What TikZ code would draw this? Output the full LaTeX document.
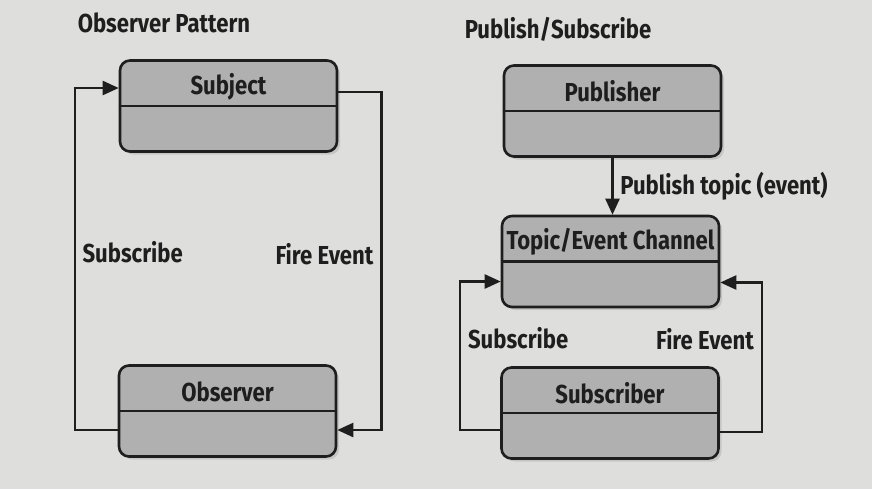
\documentclass[tikz,border=0pt]{standalone}
\usepackage{fontspec}
\setsansfont{Fira Sans}[FakeStretch=0.85]
\usepackage{tikz}
\usetikzlibrary{calc,shadows,arrows.meta}
\definecolor{pagegray}{RGB}{222,223,221}
\definecolor{boxgray}{RGB}{176,176,176}
\definecolor{inkblack}{RGB}{30,30,30}
\tikzstyle{classBox} = [draw=inkblack, line width=1.3pt, fill=boxgray, rounded corners=5pt, minimum width=108.5pt, minimum height=45.5pt, drop shadow={shadow xshift=1.5pt, shadow yshift=-1.5pt, opacity=0.25}]
\tikzstyle{className} = [font=\sffamily\bfseries\fontsize{13}{15}\selectfont, text=inkblack]
\tikzstyle{titleText} = [className, anchor=west]
\tikzstyle{flowLabel} = [className]
\tikzstyle{flow} = [draw=inkblack, line width=1.2pt, -{Triangle[length=8pt,width=7pt]}]

\begin{document}
\begin{tikzpicture}[x=0.5pt, y=-0.5pt]
\fill[pagegray] (0,0) rectangle (872,489);
\useasboundingbox (0,0) rectangle (872,489);

% observer pattern
\node (subject) [classBox] at (228.5,106) {};
\node (observer) [classBox] at (227.5,411) {};
\node (subjectName) [className, yshift=-2pt] at ($(subject.north)!0.5!(subject.center)$) {Subject};
\node (observerName) [className, yshift=-2pt] at ($(observer.north)!0.5!(observer.center)$) {Observer};
\draw[line width=1.3pt, draw=inkblack] (subject.west) -- (subject.east);
\draw[line width=1.3pt, draw=inkblack] (observer.west) -- (observer.east);
\path (subject.north west)+(-24pt,18pt) node (observerTitle) [titleText] {Observer Pattern};

\draw[flow] ([yshift=-9.5pt]observer.west) -- ++(-21.5pt,0) |- node[pos=0.26, right, flowLabel] {Subscribe} ([yshift=9pt]subject.west);
\draw[flow] ([yshift=7pt]subject.east) -- ++(21.5pt,0) |- node[pos=0.24, left, flowLabel] {Fire Event} ([yshift=-9.5pt]observer.east);

% publish/subscribe
\node (publisher) [classBox] at (612.5,111) {};
\node (topic) [classBox] at (610.5,261.5) {};
\node (subscriber) [classBox] at (610,413) {};
\node (publisherName) [className, yshift=-2pt] at ($(publisher.north)!0.5!(publisher.center)$) {Publisher};
\node (topicName) [className, yshift=-2pt] at ($(topic.north)!0.5!(topic.center)$) {Topic/Event Channel};
\node (subscriberName) [className, yshift=-2pt] at ($(subscriber.north)!0.5!(subscriber.center)$) {Subscriber};
\draw[line width=1.3pt, draw=inkblack] (publisher.west) -- (publisher.east);
\draw[line width=1.3pt, draw=inkblack] (topic.west) -- (topic.east);
\draw[line width=1.3pt, draw=inkblack] (subscriber.west) -- (subscriber.east);
\path (publisher.north west)+(-22.5pt,17.5pt) node (pubsubTitle) [titleText] {Publish/Subscribe};

\draw[flow] (publisher.south) -- node[right, flowLabel] {Publish topic (event)} (publisher.south |- topic.north);
\draw[flow] ([yshift=-8.5pt]subscriber.west) -- ++(-20pt,0) |- node[pos=0.31, right, flowLabel] {Subscribe} ([yshift=-10pt]topic.west);
\draw[flow] ([yshift=-9.5pt]subscriber.east) -- ++(21pt,0) |- node[pos=0.31, left, flowLabel] {Fire Event} ([yshift=-10.5pt]topic.east);
\end{tikzpicture}
\end{document}
